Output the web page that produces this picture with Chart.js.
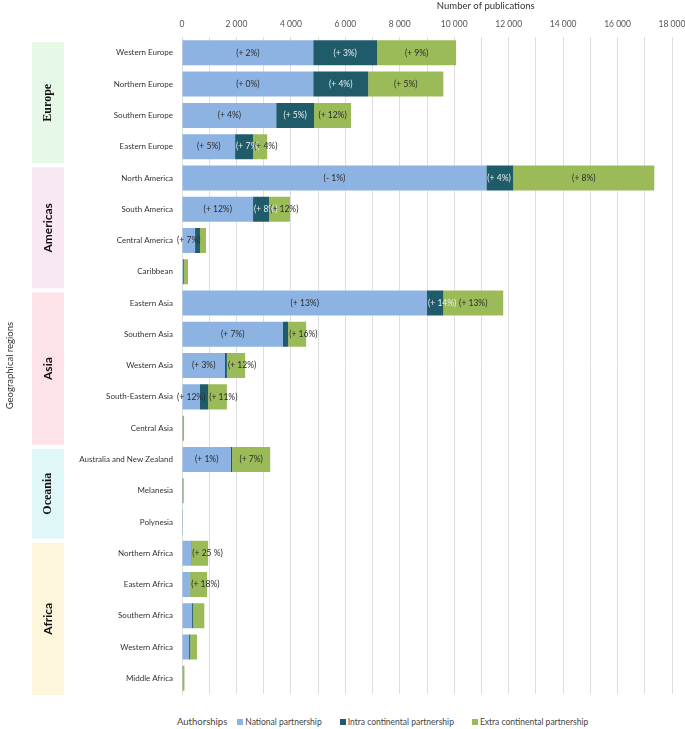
<!DOCTYPE html>
<html>
<head>
<meta charset="utf-8">
<script src="https://cdn.jsdelivr.net/npm/chart.js@4.4.1/dist/chart.umd.min.js"></script>
<style>
  body { margin:0; background:#fff; }
  #wrap { position:relative; width:685px; height:729px; }
  #chartBox { position:absolute; left:0; top:0; width:685px; height:708px; }
  #legend { position:absolute; left:177px; top:716px; display:flex; align-items:center;
            font-family:Lato, sans-serif; color:#444; white-space:nowrap; }
  #legend .ttl { font-size:9.5px; margin-right:10px; }
  #legend .itm { font-size:8.5px; display:flex; align-items:center; margin-right:18px; }
  #legend .sw { width:6px; height:6px; margin-right:2px; display:inline-block; }
</style>
</head>
<body>
<div id="wrap">
  <div id="chartBox"><canvas id="mainChart"></canvas></div>
  <div id="legend"></div>
</div>
<script>
// categories (top to bottom)
const regions = ['Western Europe','Northern Europe','Southern Europe','Eastern Europe',
  'North America','South America','Central America','Caribbean',
  'Eastern Asia','Southern Asia','Western Asia','South-Eastern Asia','Central Asia',
  'Australia and New Zealand','Melanesia','Polynesia',
  'Northern Africa','Eastern Africa','Southern Africa','Western Africa','Middle Africa'];

// continent groups: name, first index, last index
const continents = ['Europe','Americas','Asia','Oceania','Africa'];
const continentStart = [0,4,8,13,16];
const continentEnd = [3,7,12,15,20];

// publications per authorship type
const nationalVals = [4820,4820,3460,1950, 11180,2610,480,40, 9000,3710,1580,660,20, 1800,10,5, 330,290,370,260,20];
const intraVals    = [2350,2020,1390,660, 990,590,180,30, 600,190,70,300,5, 40,5,2, 10,10,40,40,5];
const extraVals    = [2900,2760,1360,520, 5180,770,220,150, 2200,660,670,690,50, 1400,50,8, 620,620,410,250,65];

// growth labels shown on the bars
const nationalLbl = ['(+ 2%)','(+ 0%)','(+ 4%)','(+ 5%)','(- 1%)','(+ 12%)','(+ 7%)','',
  '(+ 13%)','(+ 7%)','(+ 3%)','(+ 12%)','','(+ 1%)','','','','','','',''];
const intraLbl = ['(+ 3%)','(+ 4%)','(+ 5%)','(+ 7%)','(+ 4%)','(+ 8%)','','',
  '(+ 14%)','','','','','','','','','','','',''];
const extraLbl = ['(+ 9%)','(+ 5%)','(+ 12%)','(+ 4%)','(+ 8%)','(+ 12%)','','',
  '(+ 13%)','(+ 16%)','(+ 12%)','(+ 11%)','','(+ 7%)','','','(+ 25 %)','(+ 18%)','','',''];

const seriesNames = ['National partnership','Intra continental partnership','Extra continental partnership'];
const seriesColors = ['#8db3e2','#1f5b69','#9bbb59'];

const boxColors = ['#e6f9e6','#f8e8f4','#fde3e8','#e0f7f7','#fdf6dc'];
const boxFonts = ['bold 12px "Liberation Serif", serif','bold 12px Lato, sans-serif','bold 12px Lato, sans-serif',
  'bold 12px "Liberation Serif", serif','bold 12px Lato, sans-serif'];

const fmt = v => String(v).replace(/\B(?=(\d{3})+(?!\d))/g, ' ');

const regionBoxes = {
    id: 'regionBoxes',
    beforeDraw: (chart) => {
        const ctx = chart.ctx, y = chart.scales.y, area = chart.chartArea;
        const band = y.getPixelForValue(1) - y.getPixelForValue(0);
        ctx.save();
        continents.forEach((name, i) => {
            const top = y.getPixelForValue(continentStart[i]) - band/2 + 5;
            const bot = y.getPixelForValue(continentEnd[i]) + band/2 + 1;
            ctx.fillStyle = boxColors[i];
            ctx.fillRect(32, top, 32, bot - top);
            ctx.save();
            ctx.translate(48, (top + bot)/2);
            ctx.rotate(-Math.PI/2);
            ctx.fillStyle = '#111';
            ctx.font = boxFonts[i];
            ctx.textAlign = 'center'; ctx.textBaseline = 'middle';
            ctx.fillText(name, 0, 0);
            ctx.restore();
        });
        // top axis title, set right of centre as in the original
        ctx.fillStyle = '#333';
        ctx.font = '9.5px Lato, sans-serif';
        ctx.textAlign = 'center'; ctx.textBaseline = 'middle';
        ctx.fillText('Number of publications', area.left + (area.right - area.left) * 0.62, 6);
        // side title
        ctx.translate(10, (area.top + area.bottom)/2);
        ctx.rotate(-Math.PI/2);
        ctx.fillText('Geographical regions', 0, 0);
        ctx.restore();
    }
};

const barLabels = {
    id: 'barLabels',
    afterDatasetsDraw: (chart) => {
        const ctx = chart.ctx;
        ctx.save();
        ctx.font = '8.5px Lato, sans-serif';
        ctx.textBaseline = 'middle';
        chart.data.datasets.forEach((ds, di) => {
            const meta = chart.getDatasetMeta(di);
            meta.data.forEach((bar, i) => {
                const t = ds.growth[i];
                if (!t) return;
                const w = ctx.measureText(t).width;
                const seg = bar.x - bar.base;
                ctx.fillStyle = di === 1 ? '#e8f0f2' : '#2b2b2b';
                if (w + 4 <= seg || di === 0) { ctx.textAlign = 'center'; ctx.fillText(t, (bar.x + bar.base)/2, bar.y); }
                else { ctx.textAlign = 'left'; ctx.fillText(t, bar.base + 1, bar.y); }
            });
        });
        ctx.restore();
    }
};

const growthSets = [nationalLbl, intraLbl, extraLbl];
const valueSets = [nationalVals, intraVals, extraVals];

window.mainChart = new Chart(document.getElementById('mainChart'), {
    type: 'bar',
    data: {
        labels: regions,
        datasets: seriesNames.map((n, i) => ({
            label: n, data: valueSets[i], growth: growthSets[i],
            backgroundColor: seriesColors[i], borderWidth: 0,
            categoryPercentage: 0.8, barPercentage: 1
        }))
    },
    options: {
        indexAxis: 'y',
        responsive: true,
        maintainAspectRatio: false,
        animation: false,
        layout: { padding: { left: 0, right: 13, top: 11, bottom: 14 } },
        scales: {
            x: {
                position: 'top', stacked: true, min: 0, max: 18000,
                afterFit: s => { s.paddingRight = 0; s.paddingLeft = 0; },
                ticks: { stepSize: 1000, autoSkip: false, maxRotation: 0, padding: 8,
                         font: { size: 8.5, family: 'Lato' }, color: '#555',
                         callback: v => v % 2000 === 0 ? fmt(v) : '' },
                grid: { color: '#dedede', drawTicks: false },
                border: { display: false }
            },
            y: {
                stacked: true,
                afterFit: s => { s.width = 182; },
                ticks: { font: { size: 8, family: 'Lato' }, color: '#333', padding: 1 },
                grid: { display: false },
                border: { color: '#dedede' }
            }
        },
        plugins: { legend: { display: false }, tooltip: { enabled: false } }
    },
    plugins: [regionBoxes, barLabels]
});

// html legend
const lg = document.getElementById('legend');
lg.innerHTML = '<span class="ttl">Authorships</span>' + seriesNames.map((n, i) =>
    `<span class="itm"><span class="sw" style="background:${seriesColors[i]}"></span>${n}</span>`).join('');
</script>
</body>
</html>
